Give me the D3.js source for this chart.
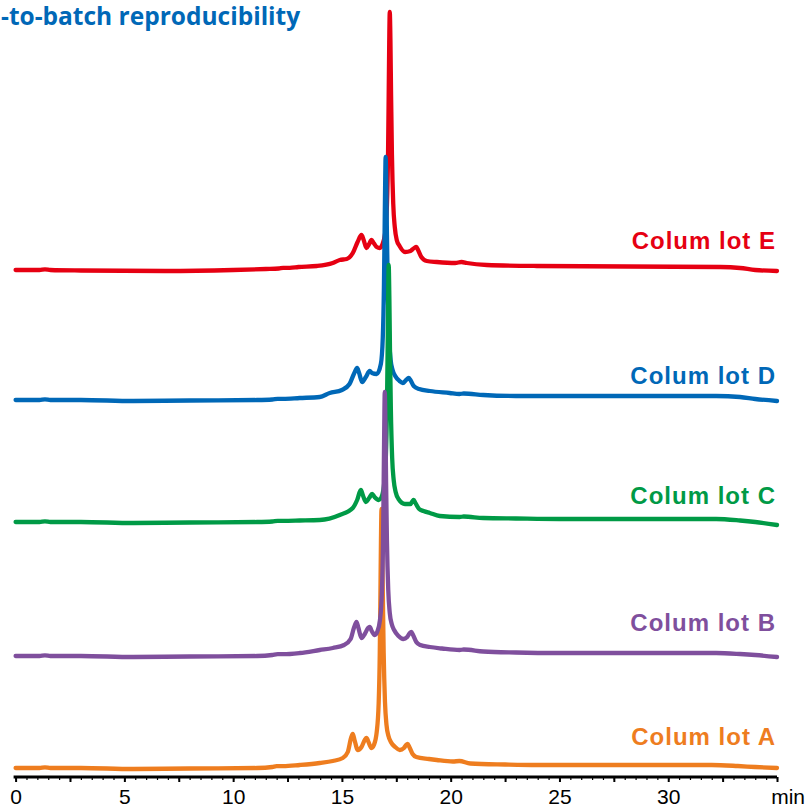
<!DOCTYPE html>
<html>
<head>
<meta charset="utf-8">
<script src="https://cdn.jsdelivr.net/npm/d3@7"></script>
<style>
  html, body { margin: 0; padding: 0; background: #fff; }
  svg { display: block; }
</style>
</head>
<body>
<svg id="chart" width="808" height="807"></svg>
<script>
// Stacked chromatograms, five column lots. Each lot: [retention time (min), signal above its own baseline (mAU)].
const lotA = [[0,0],[1.1,0],[1.35,0.6],[1.6,0],[3,0],[5.4,-1],[8,-0.5],[11.1,0],[11.8,1],[12.0,1.8],[12.3,1.8],[13.06,3],[13.98,5],[14.58,7],[15.04,10],[15.27,16],[15.42,30],[15.5,34],[15.58,28],[15.73,18],[15.9,21],[16.05,28],[16.13,30],[16.22,26],[16.36,20],[16.47,23],
  [16.6,36],[16.69,65],[16.74,115],[16.77,175],[16.795,228],[16.82,259],[16.85,230],[16.88,175],[16.92,115],[16.98,66],[17.05,43],[17.14,32],[17.25,26],[17.45,21],[17.66,18],[17.85,20],[17.95,23],[18.02,24],[18.1,21],[18.25,14],[18.42,11],[19.0,9],[19.36,8],[20.1,6.5],[20.4,7],[20.9,4.5],[22.5,3.5],[23.95,3],[32.0,3],[33.2,2],[34,1],[35,0]];

const lotB = [[0,0],[1.1,0],[1.35,0.6],[1.6,0],[3,0],[5.4,-1],[8,-0.5],[11.1,0],[11.8,1],[12.05,1.8],[12.3,1.8],[13.06,3],[13.98,6],[14.58,8],[15.1,11],[15.4,17],[15.55,28],[15.67,34],[15.76,28],[15.9,18],[16.05,22],[16.2,28],[16.28,29],[16.37,25],[16.51,21],[16.62,24],
  [16.75,36],[16.84,65],[16.89,115],[16.92,175],[16.945,228],[16.97,264],[17.0,232],[17.03,175],[17.07,115],[17.13,66],[17.2,43],[17.29,32],[17.4,26],[17.6,20],[17.82,17],[18.0,19],[18.12,23],[18.19,24],[18.27,21],[18.42,14],[18.6,11],[19.04,9],[19.6,7.5],[20.41,6],[20.6,6.5],[21.5,4.5],[23,3.5],[25,3],[32.2,3],[33.3,2],[34,1],[35,-1]];

const lotC = [[0,0],[1.1,0],[1.35,0.6],[1.6,0],[3,0],[5.4,-1],[8,-0.5],[11.1,0],[11.8,0.5],[12.05,1.2],[12.3,1.2],[13.06,1.5],[13.98,2],[14.9,7],[15.5,14],[15.7,22],[15.87,32],[15.96,27],[16.1,20],[16.25,24],[16.39,28],[16.5,25],[16.69,22],[16.8,24],
  [16.93,36],[17.02,65],[17.07,113],[17.1,170],[17.125,222],[17.15,257],[17.18,226],[17.21,172],[17.25,113],[17.31,64],[17.38,42],[17.47,30],[17.6,23],[17.9,18],[18.15,18],[18.25,21],[18.3,22],[18.38,19],[18.55,13],[18.75,11],[19.04,9],[19.5,6],[20.41,5],[20.6,5.5],[21.5,4],[23,3.5],[25,3],[32.2,3],[33.3,1.5],[34,0],[35,-3]];

const lotD = [[0,0],[1.1,0],[1.35,0.6],[1.6,0],[3,0],[5.4,-1],[8,-0.5],[11.1,0],[11.8,0.5],[12.05,1.2],[12.3,1.2],[13.06,2],[13.98,3],[14.44,7],[15.0,10],[15.35,16],[15.55,26],[15.7,32],[15.79,27],[15.93,18],[16.1,23],[16.28,29],[16.38,27],[16.6,26],
  [16.79,36],[16.88,63],[16.93,112],[16.96,165],[16.985,212],[17.01,243],[17.04,215],[17.07,165],[17.11,110],[17.17,62],[17.24,40],[17.33,30],[17.45,24],[17.65,19],[17.8,17],[17.95,20],[18.07,22],[18.15,20],[18.3,14],[18.55,11],[19.04,9],[19.95,7],[20.4,6],[20.6,6.5],[21.5,5],[23,4],[25,4],[32.2,4],[33.3,3],[34,1],[35,-1]];

const lotE = [[0,0],[1.1,0],[1.35,0.6],[1.6,0],[3,-0.5],[6.9,-1],[10,0],[11.5,1],[12.1,1.5],[12.3,2.2],[12.6,2.2],[13.0,3],[13.85,4],[14.58,7],[14.9,10],[15.22,11],[15.5,17],[15.72,28],[15.9,35],[16.0,30],[16.13,22],[16.25,26],[16.36,30],[16.46,27],[16.6,23],[16.74,22],[16.85,25],
  [16.98,36],[17.07,65],[17.12,115],[17.15,175],[17.175,228],[17.2,258],[17.23,230],[17.26,175],[17.3,115],[17.36,66],[17.43,43],[17.52,30],[17.65,24],[17.9,18],[18.15,19],[18.32,22],[18.42,23],[18.5,20],[18.65,13],[18.9,9],[19.36,8],[20.2,7],[20.5,8],[20.74,7],[21.66,5],[23.95,4],[32.4,3],[33.3,2],[34,0],[35,-1]];

// Vertical offset of each chromatogram in the stack (mAU)
const lotNames   = ["Colum lot A", "Colum lot B", "Colum lot C", "Colum lot D", "Colum lot E"];
const lotData    = [lotA, lotB, lotC, lotD, lotE];
const lotOffsets = [9, 121, 255, 377, 507];
const lotColors  = ["#ee7d1f", "#7f4f9d", "#009a46", "#0068b7", "#e60012"];
// Label heights (mAU) at which each lot name sits
const labelLevels = [32, 146, 273, 393, 528];
// Drawing order, back to front
const drawOrder = [0, 4, 3, 2, 1];

const majorTicks = d3.range(0, 35.01, 2.5);
const minorTicks = d3.range(0, 35.01, 0.5);
const tickLabels = [0, 5, 10, 15, 20, 25, 30];
const axisUnit = "min";
const titleText = "-to-batch reproducibility";

const svg = d3.select("#chart");
const x = d3.scaleLinear().domain([0, 35]).range([15.6, 777]);
const y = d3.scaleLinear().domain([0, 770]).range([777, 7]);

// Title
svg.append("text")
  .attr("x", 1).attr("y", 25)
  .attr("font-family", "'Open Sans', 'Noto Sans', sans-serif")
  .attr("font-weight", 700)
  .attr("font-size", 24.5)
  .attr("fill", "#0068b7")
  .text(titleText);

// Traces
const line = d3.line().curve(d3.curveMonotoneX);
drawOrder.forEach(i => {
  svg.append("path")
    .datum(lotData[i])
    .attr("fill", "none")
    .attr("stroke", lotColors[i])
    .attr("stroke-width", 4.3)
    .attr("stroke-linejoin", "round")
    .attr("stroke-linecap", "round")
    .attr("d", line.x(d => x(d[0])).y(d => y(lotOffsets[i] + d[1])));
});

// Lot labels
lotNames.forEach((name, i) => {
  svg.append("text")
    .attr("x", 776).attr("y", y(labelLevels[i]))
    .attr("text-anchor", "end")
    .attr("font-family", "'Liberation Sans', Arial, sans-serif")
    .attr("font-weight", 700)
    .attr("font-size", 24)
    .attr("letter-spacing", 1)
    .attr("fill", lotColors[i])
    .text(name);
});

// Time axis
const axisG = svg.append("g").attr("transform", `translate(0,${y(0)})`);
axisG.append("g")
  .call(d3.axisBottom(x).tickValues(minorTicks).tickSize(3).tickFormat("").tickSizeOuter(0))
  .call(g => g.select(".domain").remove())
  .call(g => g.selectAll(".tick line").attr("stroke", "#000").attr("stroke-width", 1.2));
axisG.append("g")
  .call(d3.axisBottom(x).tickValues(majorTicks).tickSize(5).tickSizeOuter(0)
        .tickFormat(d => tickLabels.includes(d) ? d : ""))
  .call(g => g.select(".domain").attr("stroke", "#000").attr("stroke-width", 3)
              .attr("d", `M${x(0) - 2},0H${x(35)}`))
  .call(g => g.selectAll(".tick line").attr("stroke", "#000").attr("stroke-width", 2))
  .call(g => g.selectAll(".tick text")
              .attr("y", 27).attr("dy", 0)
              .attr("fill", "#000")
              .attr("font-family", "'Liberation Sans Narrow', 'Arial Narrow', 'Liberation Sans', sans-serif")
              .attr("font-size", 21));
axisG.append("text")
  .attr("x", 805).attr("y", 27)
  .attr("text-anchor", "end")
  .attr("font-family", "'Liberation Sans Narrow', 'Arial Narrow', 'Liberation Sans', sans-serif")
  .attr("font-size", 21)
  .attr("fill", "#000")
  .text(axisUnit);
</script>
</body>
</html>
